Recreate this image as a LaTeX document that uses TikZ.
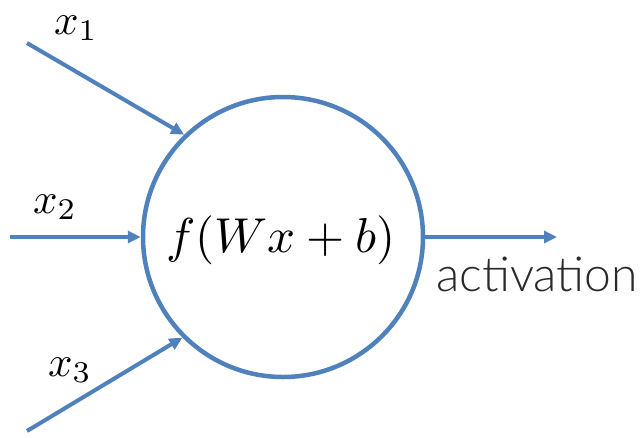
\documentclass[tikz,border=0pt]{standalone}
\usepackage{fontspec}
\newfontfamily\actfont{Lato Light}
\usetikzlibrary{arrows.meta}
\definecolor{nblue}{HTML}{4F81BD}
\definecolor{actgray}{HTML}{2A2A2A}
\begin{document}
\begin{tikzpicture}[x=1pt,y=-1pt,
  conn/.style={draw=nblue,line width=4pt,-{Triangle[length=13pt,width=12pt]}},
  lbl/.style={scale=4.3,inner sep=0pt}]
\useasboundingbox (0,0) rectangle (642,437);
\node[circle,draw=nblue,line width=4.5pt,minimum size=280pt,inner sep=0pt] (n) at (283,237) {};
\node[scale=4.9,inner sep=0pt] (f) at (281,240) {$f(Wx+b)$};
\coordinate (i1) at (27,43);
\coordinate (i2) at (10,237);
\coordinate (i3) at (27,431);
\coordinate (o) at (557,237);
\draw[conn] (i1) -- (n.134.4);
\draw[conn] (i2) -- (n.west);
\draw[conn] (i3) -- (n.225.6);
\draw[conn] (n.east) -- (o);
\node[lbl] (l1) at (76,28) {$x_1$};
\node[lbl] (l2) at (55,207) {$x_2$};
\node[lbl] (l3) at (70,370) {$x_3$};
\node[inner sep=0pt,text=actgray,font=\actfont\fontsize{48}{52}\selectfont] (act) at (537,274) {activation};
\end{tikzpicture}
\end{document}
